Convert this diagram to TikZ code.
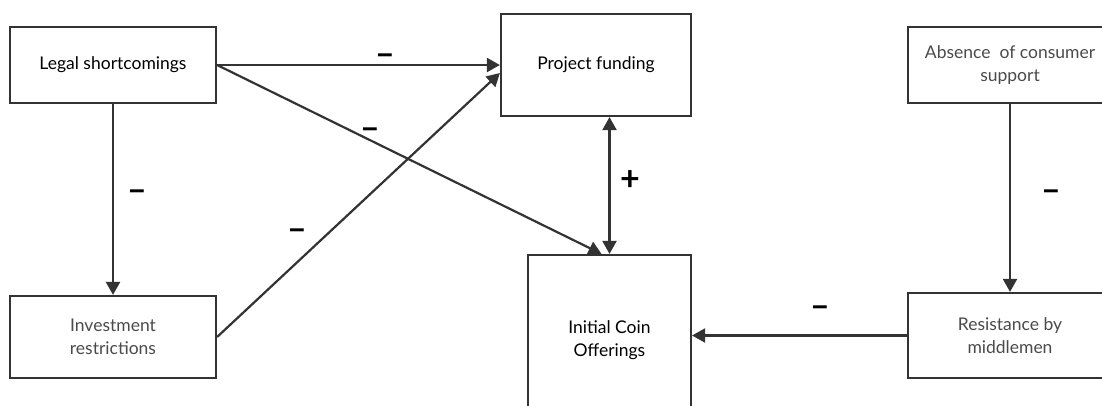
\documentclass[tikz,border=0pt]{standalone}
\usepackage{fontspec}
\setmainfont{Lato}
\usetikzlibrary{arrows.meta}
\definecolor{linec}{HTML}{333333}
\definecolor{greytext}{HTML}{4A4A4A}
\tikzset{
  box/.style={draw=linec, line width=2.2pt, fill=white, align=center, inner sep=0pt,
    font=\fontsize{17.5}{23}\selectfont, text=black},
  greybox/.style={box, text=greytext},
  conn/.style={draw=linec, line width=2.2pt, -{Triangle[length=13pt,width=14pt]}},
  both/.style={draw=linec, line width=2.2pt, {Triangle[length=13pt,width=14pt]}-{Triangle[length=13pt,width=14pt]}},
  sign/.style={font=\fontsize{34}{34}\selectfont\bfseries, text=black, inner sep=0pt}
}
\begin{document}
\begin{tikzpicture}[x=1pt,y=-1pt]
\useasboundingbox (0,0) rectangle (1102,405);
\clip (0,0) rectangle (1102,405);
\fill[white] (0,0) rectangle (1102,405);
% boxes
\node[box, minimum width=206pt, minimum height=76pt] (legal) at (113,65) {Legal shortcomings};
\node[box, minimum width=190pt, minimum height=102pt] (pf) at (596,65) {Project funding};
\node[greybox, minimum width=204pt, minimum height=76pt] (abs) at (1010,65) {Absence~ of consumer\\support};
\node[greybox, minimum width=206pt, minimum height=82pt] (inv) at (113,337) {Investment\\restrictions};
\node[box, minimum width=163pt, minimum height=170pt] (ico) at (609.5,340) {Initial Coin\\Offerings};
\node[greybox, minimum width=204pt, minimum height=85pt] (res) at (1010,335.5) {Resistance by\\middlemen};
% connectors
\draw[conn] (legal.east) -- (legal.east -| pf.west);
\draw[conn] (legal.east) -- ([xshift=-8pt]ico.north);
\draw[conn] (legal.south) -- (inv.north);
\draw[conn] (inv.east) -- ([yshift=-8pt]pf.west);
\draw[both] (pf.south -| ico.north) -- (ico.north);
\draw[conn] (abs.south) -- (res.north);
\draw[conn] (res.west) -- (res.west -| ico.east);
% signs
\node[sign] (s1) at (385,60) {–};
\node[sign] (s2) at (370,134) {–};
\node[sign] (s3) at (137,196) {–};
\node[sign] (s4) at (297,235) {–};
\node[sign] (s5) at (630,181) {+};
\node[sign] (s6) at (1051,196) {–};
\node[sign] (s7) at (820,312) {–};
\end{tikzpicture}
\end{document}
